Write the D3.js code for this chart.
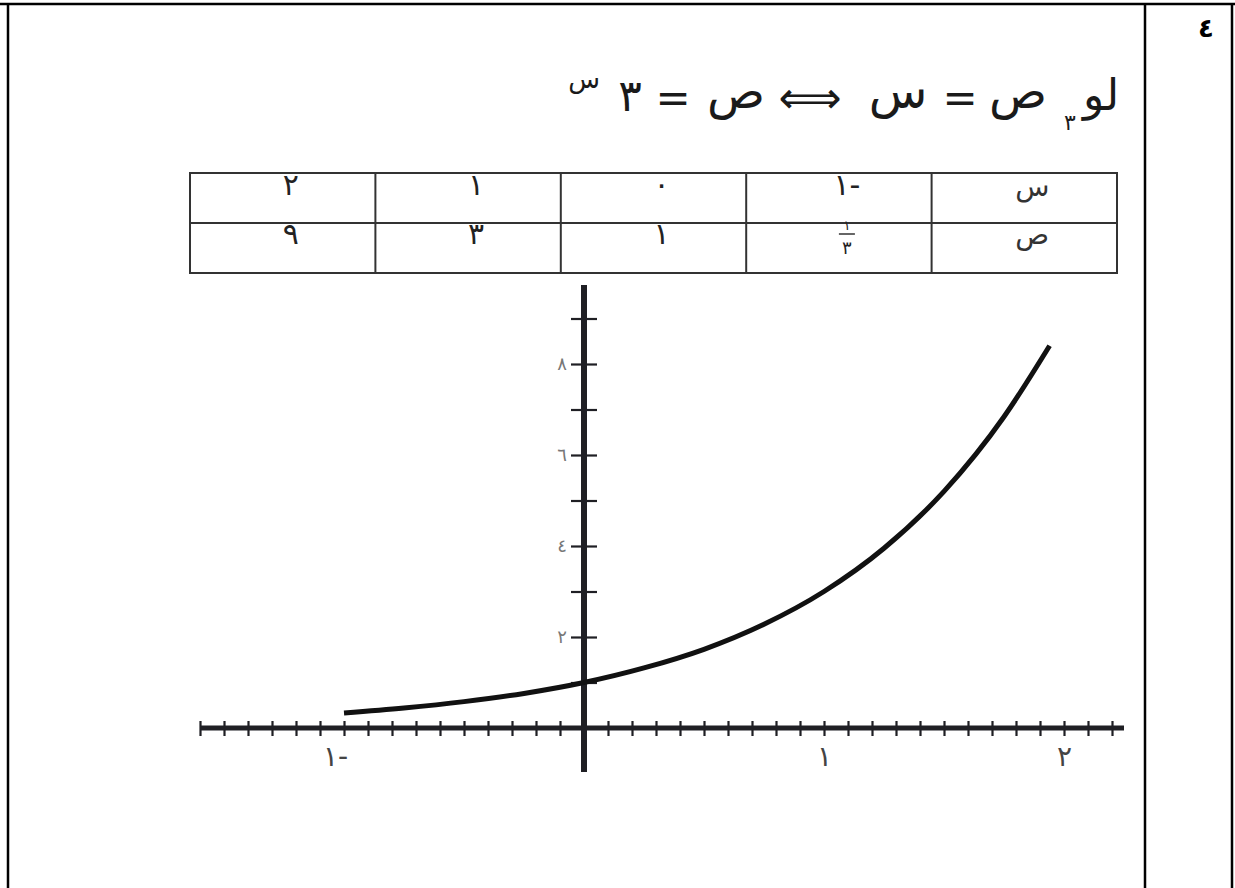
<!DOCTYPE html>
<html>
<head>
<meta charset="utf-8">
<script src="https://cdn.jsdelivr.net/npm/d3@7"></script>
<style>
  body { margin: 0; background: #fff; }
  svg { display: block; }
  .ar { font-family: "DejaVu Sans", sans-serif; }
</style>
</head>
<body>
<div id="chart"></div>
<script>
// Werte der Tabelle (س , ص)
var tableX = [-1, 0, 1, 2];
var tableY = ["1/3", "1", "3", "9"];
var curveX = [-1, -0.75, -0.5, -0.25, 0, 0.25, 0.5, 0.75, 1, 1.25, 1.5, 1.75, 1.94];
var curveY = [0.33, 0.44, 0.58, 0.76, 1, 1.32, 1.73, 2.28, 3, 3.95, 5.2, 6.84, 8.4];
// Achsen
var xMinorTicks = d3.range(-16, 23).map(function (d) { return d / 10; });
var xLabelTicks = [-1, 1, 2];
var yTicks = [1, 2, 3, 4, 5, 6, 7, 8, 9];
var yLabelTicks = [2, 4, 6, 8];

var arDigits = "٠١٢٣٤٥٦٧٨٩";
function ar(n) {
    var s = String(Math.abs(n)).replace(/[0-9]/g, function (c) { return arDigits[+c]; });
    return n < 0 ? s + "-" : s;
}

var width = 1235;
var height = 888;
var svg = d3.select("#chart")
    .append("svg")
    .attr("width", width)
    .attr("height", height);

//Rahmen
svg.append("line").attr("x1", 0).attr("x2", width).attr("y1", 4).attr("y2", 4)
    .attr("stroke", "#000").attr("stroke-width", 2.5);
[8, 1145, 1232].forEach(function (lx) {
    svg.append("line").attr("x1", lx).attr("x2", lx).attr("y1", 3).attr("y2", height)
        .attr("stroke", "#000").attr("stroke-width", 2.5);
});
svg.append("text")
    .attr("class", "ar")
    .attr("x", 1206).attr("y", 37)
    .attr("text-anchor", "middle")
    .attr("font-size", 26).attr("font-weight", "bold")
    .text("٤");

//Titel: لو٣ ص = س ⟺ ص = ٣^س
var title = svg.append("g").attr("class", "ar").attr("fill", "#1a1a1a");
var tokens = [
    { t: "لو", x: 1101, y: 110, s: 44 },
    { t: "٣", x: 1070, y: 130, s: 22 },
    { t: "ص", x: 1018, y: 108, s: 48 },
    { t: "=", x: 960, y: 112, s: 42 },
    { t: "س", x: 898, y: 108, s: 48 },
    { t: "⟺", x: 810, y: 113, s: 44 },
    { t: "ص", x: 736, y: 108, s: 48 },
    { t: "=", x: 673, y: 112, s: 42 },
    { t: "٣", x: 630, y: 111, s: 44 },
    { t: "س", x: 584, y: 88, s: 26 }
];
tokens.forEach(function (d) {
    title.append("text")
        .attr("x", d.x).attr("y", d.y)
        .attr("text-anchor", "middle")
        .attr("font-size", d.s)
        .text(d.t);
});

//Tabelle
var colX = d3.scaleBand().domain([2, 1, 0, -1, "h"]).range([190, 1117]);
var tTop = 173, tMid = 223, tBot = 273;
var table = svg.append("g").attr("class", "ar");
table.append("rect")
    .attr("x", 190).attr("y", tTop)
    .attr("width", 927).attr("height", tBot - tTop)
    .attr("fill", "none").attr("stroke", "#333").attr("stroke-width", 2);
table.append("line").attr("x1", 190).attr("x2", 1117).attr("y1", tMid).attr("y2", tMid)
    .attr("stroke", "#333").attr("stroke-width", 2);
colX.domain().slice(1).forEach(function (c) {
    table.append("line").attr("x1", colX(c)).attr("x2", colX(c)).attr("y1", tTop).attr("y2", tBot)
        .attr("stroke", "#333").attr("stroke-width", 2);
});
var cx = function (c) { return colX(c) + colX.bandwidth() / 2 + 8; };
table.append("text").attr("x", cx("h")).attr("y", 196).attr("text-anchor", "middle")
    .attr("font-size", 28).attr("fill", "#333").text("س");
table.append("text").attr("x", cx("h")).attr("y", 244).attr("text-anchor", "middle")
    .attr("font-size", 28).attr("fill", "#333").text("ص");
tableX.forEach(function (v, i) {
    table.append("text").attr("x", cx(v)).attr("y", 195).attr("text-anchor", "middle")
        .attr("font-size", 30).attr("fill", "#222").text(ar(v));
    var yv = tableY[i];
    if (yv.indexOf("/") > 0) {
        var p = yv.split("/");
        table.append("text").attr("x", cx(v)).attr("y", 230).attr("text-anchor", "middle")
            .attr("font-size", 13).attr("fill", "#222").text(ar(+p[0]));
        table.append("line").attr("x1", cx(v) - 8).attr("x2", cx(v) + 8).attr("y1", 234).attr("y2", 234)
            .attr("stroke", "#333").attr("stroke-width", 1.5);
        table.append("text").attr("x", cx(v)).attr("y", 254).attr("text-anchor", "middle")
            .attr("font-size", 18).attr("fill", "#222").text(ar(+p[1]));
    } else {
        table.append("text").attr("x", cx(v)).attr("y", 244).attr("text-anchor", "middle")
            .attr("font-size", 30).attr("fill", "#222").text(ar(+yv));
    }
});

//Koordinatensystem
var x = d3.scaleLinear().domain([-1.6, 2.25]).range([200, 1124]);
var y = d3.scaleLinear().domain([0, 10]).range([728, 273]);

var axisCol = "#1f1f24";
// x-Achse mit kleinen Strichen
var xTickAxis = d3.axisBottom(x).tickValues(xMinorTicks).tickSize(15).tickFormat("");
var gx = svg.append("g")
    .attr("transform", "translate(0," + (y(0) - 7) + ")")
    .call(xTickAxis);
gx.select(".domain").remove();
gx.selectAll(".tick line").attr("stroke", axisCol).attr("stroke-width", 2.2);
svg.append("line")
    .attr("x1", x(-1.6)).attr("x2", x(2.25)).attr("y1", y(0)).attr("y2", y(0))
    .attr("stroke", axisCol).attr("stroke-width", 5);

var xLabelAxis = d3.axisBottom(x).tickValues(xLabelTicks).tickSize(0).tickPadding(18)
    .tickFormat(ar);
var gxl = svg.append("g")
    .attr("transform", "translate(0," + y(0) + ")")
    .call(xLabelAxis);
gxl.select(".domain").remove();
gxl.selectAll(".tick text")
    .attr("class", "ar")
    .attr("font-family", "DejaVu Sans")
    .attr("font-size", 28).attr("fill", "#444")
    .attr("dx", function (d) { return d < 0 ? -9 : 0; });

// y-Achse
var yTickAxis = d3.axisLeft(y).tickValues(yTicks).tickSize(26).tickFormat("");
var gy = svg.append("g")
    .attr("transform", "translate(" + (x(0) + 13) + ",0)")
    .call(yTickAxis);
gy.select(".domain").remove();
gy.selectAll(".tick line").attr("stroke", axisCol).attr("stroke-width", 2.2);
svg.append("line")
    .attr("x1", x(0)).attr("x2", x(0)).attr("y1", 285).attr("y2", 772)
    .attr("stroke", axisCol).attr("stroke-width", 6);
var yLabelAxis = d3.axisLeft(y).tickValues(yLabelTicks).tickSize(0).tickPadding(17).tickFormat(ar);
var gyl = svg.append("g")
    .attr("transform", "translate(" + x(0) + ",0)")
    .call(yLabelAxis);
gyl.select(".domain").remove();
gyl.selectAll(".tick text")
    .attr("font-family", "DejaVu Sans")
    .attr("font-size", 18).attr("fill", "#777");

// Kurve
var pts = curveX.map(function (d, i) { return [d, curveY[i]]; });
var line = d3.line()
    .x(function (d) { return x(d[0]); })
    .y(function (d) { return y(d[1]); })
    .curve(d3.curveMonotoneX);
svg.append("path")
    .datum(pts)
    .attr("d", line)
    .attr("fill", "none")
    .attr("stroke", "#111")
    .attr("stroke-width", 5);
</script>
</body>
</html>
